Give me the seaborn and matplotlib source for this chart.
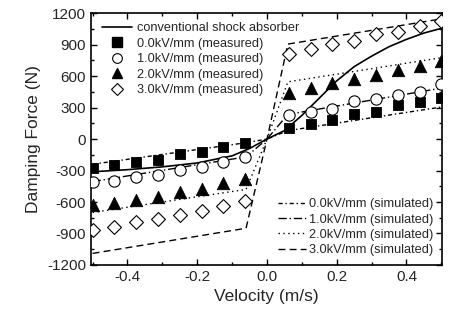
import matplotlib
matplotlib.use("Agg")
from matplotlib import pyplot as plt
from matplotlib.ticker import MultipleLocator
from matplotlib.lines import Line2D
import seaborn as sns
import numpy as np

# measured velocities (m/s)
velocity = [-0.5, -0.4375, -0.375, -0.3125, -0.25, -0.1875, -0.125, -0.0625,
            0.0625, 0.125, 0.1875, 0.25, 0.3125, 0.375, 0.4375, 0.5]

# measured damping force (N)
force_0kV = [-279, -248, -216, -200, -143, -121, -73, -41,
             105, 140, 181, 235, 260, 324, 355, 394]
force_1kV = [-413, -397, -359, -343, -295, -264, -216, -169,
             229, 254, 286, 362, 378, 422, 451, 524]
force_2kV = [-629, -613, -581, -550, -502, -479, -422, -384,
             435, 483, 530, 572, 613, 658, 700, 743]
force_3kV = [-867, -842, -788, -765, -724, -686, -638, -588,
             807, 858, 902, 937, 1000, 1023, 1077, 1127]

# simulated curves
sim_velocity = [-0.5, -0.06, 0.0, 0.06, 0.5]
sim_0kV = [-240, -35, 0, 80, 305]
sim_1kV = [-405, -170, 0, 235, 485]
sim_2kV = [-700, -480, 0, 545, 775]
sim_3kV = [-1090, -850, 0, 905, 1145]

# conventional shock absorber
conv_velocity = [-0.5, -0.4, -0.3, -0.2, -0.1, -0.05, 0.0, 0.05, 0.1, 0.15,
                 0.2, 0.25, 0.3, 0.35, 0.4, 0.45, 0.5]
conv_force = [-312, -292, -265, -228, -160, -90, 0, 80, 225, 390,
              555, 690, 790, 880, 950, 1010, 1055]

sns.set_style("ticks")
plt.rcParams['font.family'] = ['Liberation Sans', 'DejaVu Sans']

fig = plt.figure(figsize=(4.52, 3.2), dpi=100)
ax = fig.add_axes([0.201, 0.172, 0.777, 0.787])

# simulated lines
sim_styles = [(0, (3, 2, 1, 2)), (0, (6, 2, 1, 2)), (0, (1, 2.5)), (0, (5, 3))]
sim_series = [sim_0kV, sim_1kV, sim_2kV, sim_3kV]
for ys, ls in zip(sim_series, sim_styles):
    sns.lineplot(x=sim_velocity, y=ys, ax=ax, color='black', linewidth=1,
                 linestyle=ls, sort=False, estimator=None)

# conventional
sns.lineplot(x=conv_velocity, y=conv_force, ax=ax, color='black', linewidth=1.2,
             sort=False, estimator=None)

# measured
sns.scatterplot(x=velocity, y=force_0kV, ax=ax, marker='s', s=58, color='black',
                edgecolor='black', linewidth=0.6, zorder=3)
sns.scatterplot(x=velocity, y=force_1kV, ax=ax, marker='o', s=66, color='white',
                edgecolor='black', linewidth=0.8, zorder=3)
sns.scatterplot(x=velocity, y=force_2kV, ax=ax, marker='^', s=80, color='black',
                edgecolor='black', linewidth=0.6, zorder=3)
sns.scatterplot(x=velocity, y=force_3kV, ax=ax, marker='D', s=50, color='white',
                edgecolor='black', linewidth=0.8, zorder=3)

ax.set_xlim(-0.505, 0.502)
ax.set_ylim(-1200, 1200)
ax.xaxis.set_major_locator(MultipleLocator(0.2))
ax.xaxis.set_minor_locator(MultipleLocator(0.1))
ax.yaxis.set_major_locator(MultipleLocator(300))
ax.yaxis.set_minor_locator(MultipleLocator(150))
ax.tick_params(which='both', direction='in', top=True, right=True, labelsize=11,
               width=1, color='black')
ax.tick_params(which='major', length=4)
ax.tick_params(which='minor', length=2.5)
for s in ax.spines.values():
    s.set_linewidth(1.2)
    s.set_color('black')
ax.set_xticks([-0.4, -0.2, 0.0, 0.2, 0.4])
ax.set_xticklabels(['-0.4', '-0.2', '0.0', '0.2', '0.4'])
ax.set_yticks(np.arange(-1200, 1201, 300))
ax.set_yticklabels([str(v) for v in np.arange(-1200, 1201, 300)])
ax.set_xlabel('Velocity (m/s)', fontsize=12.5)
ax.set_ylabel('Damping Force (N)', fontsize=12.5)

# legends
h_top = [Line2D([], [], color='black', lw=1.2),
         Line2D([], [], ls='', marker='s', ms=6.5, mfc='black', mec='black'),
         Line2D([], [], ls='', marker='o', ms=7, mfc='white', mec='black', mew=0.8),
         Line2D([], [], ls='', marker='^', ms=7.5, mfc='black', mec='black'),
         Line2D([], [], ls='', marker='D', ms=6, mfc='white', mec='black', mew=0.8)]
l_top = ['conventional shock absorber', '0.0kV/mm (measured)', '1.0kV/mm (measured)',
         '2.0kV/mm (measured)', '3.0kV/mm (measured)']
leg1 = ax.legend(h_top, l_top, loc='upper left', bbox_to_anchor=(0.005, 1.0),
                 frameon=False, fontsize=9.2, handlelength=2.4, handletextpad=0.4,
                 labelspacing=0.28, borderaxespad=0.3)
ax.add_artist(leg1)

h_bot = [Line2D([], [], color='black', lw=1, ls=ls) for ls in sim_styles]
l_bot = ['0.0kV/mm (simulated)', '1.0kV/mm (simulated)', '2.0kV/mm (simulated)',
         '3.0kV/mm (simulated)']
ax.legend(h_bot, l_bot, loc='lower right', bbox_to_anchor=(1.0, 0.0),
          frameon=False, fontsize=9.2, handlelength=2.2, handletextpad=0.2,
          labelspacing=0.25, borderaxespad=0.3)

fig.savefig('out.png', dpi=100)
